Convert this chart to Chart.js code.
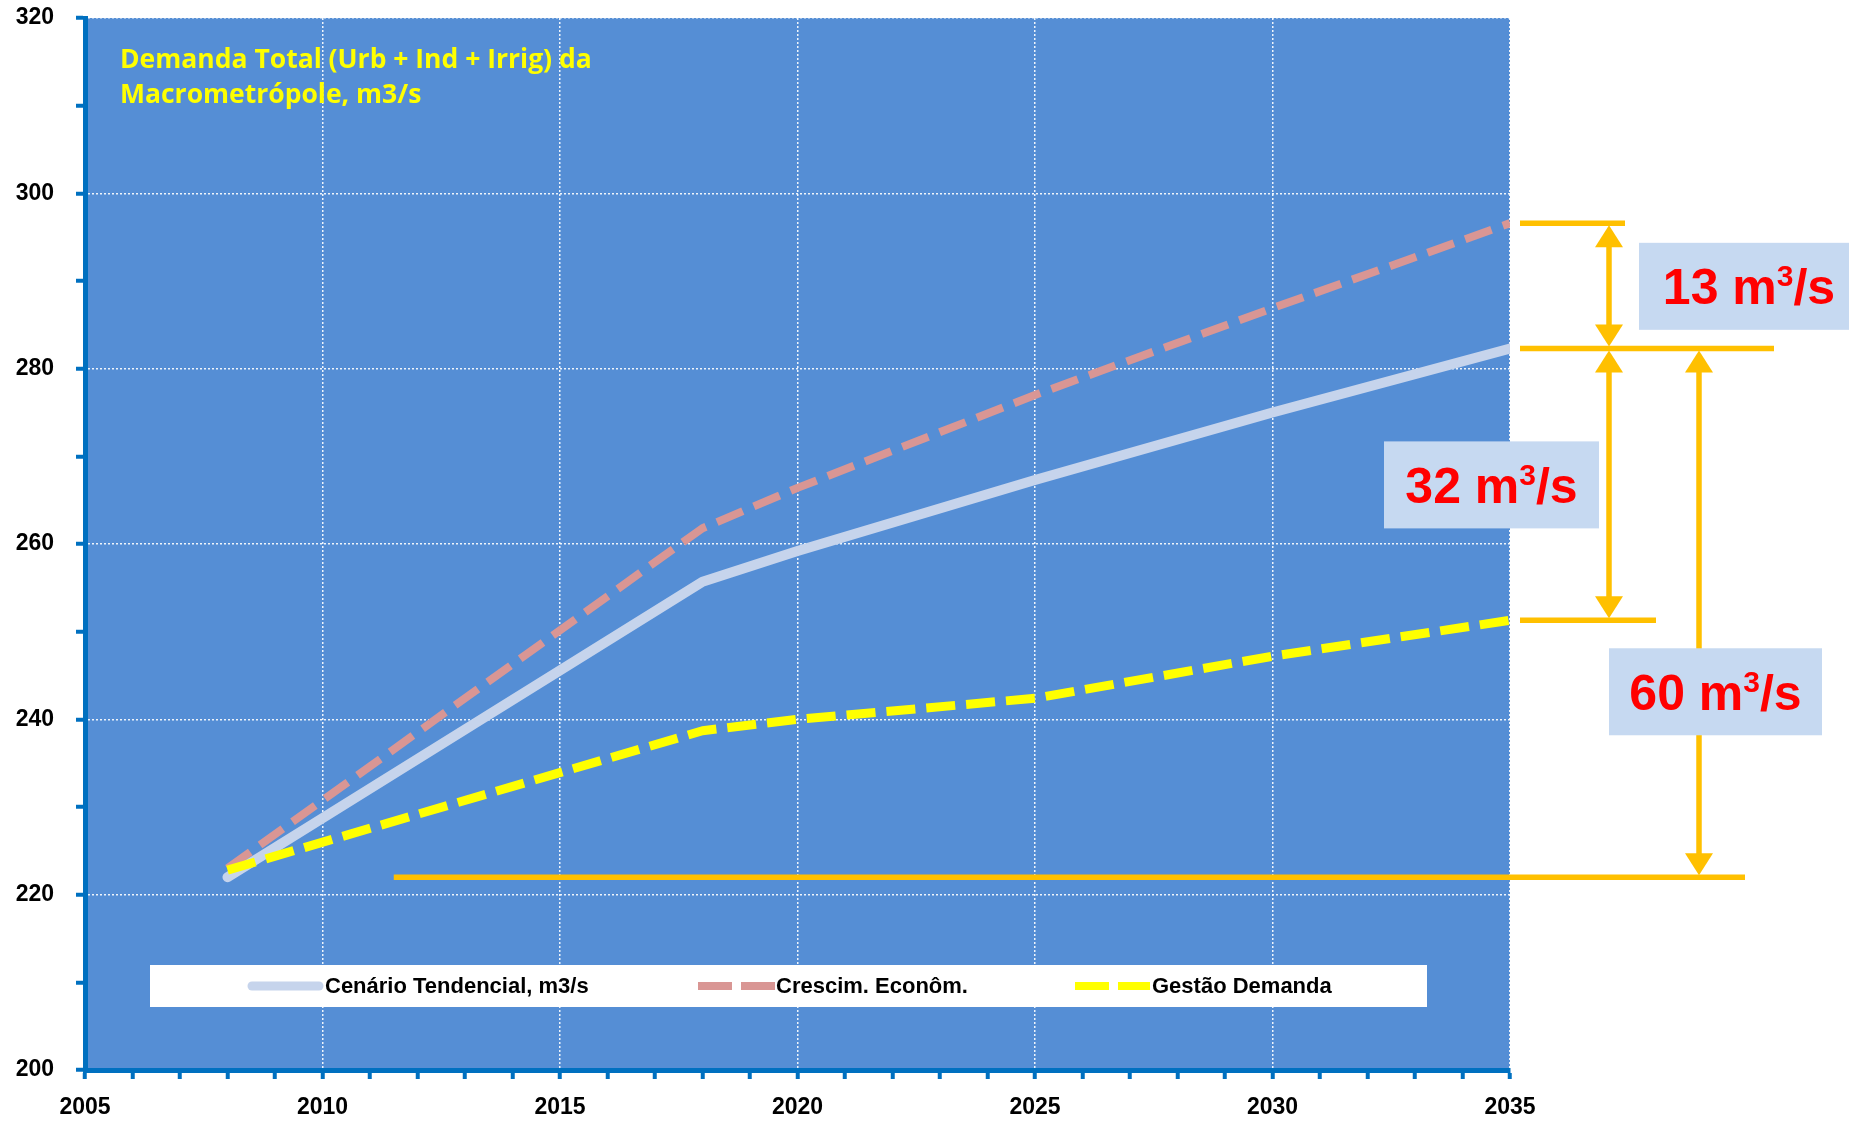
<!DOCTYPE html>
<html>
<head>
<meta charset="utf-8">
<script src="https://cdn.jsdelivr.net/npm/chart.js@4.4.1/dist/chart.umd.min.js"></script>
<style>
  html, body { margin: 0; padding: 0; background: #fff; }
</style>
</head>
<body>
<canvas id="chart" width="1849" height="1121"></canvas>
<script>
// dados
const years       = [2008, 2018, 2020, 2025, 2030, 2035];
const tendencial  = [222.0, 255.7, 259.2, 267.3, 275.0, 282.3];
const crescimento = [223.0, 261.8, 266.4, 277.0, 286.9, 296.6];
const gestao      = [222.8, 238.7, 240.0, 242.4, 247.2, 251.3];

const seriesLabels = ['Cenário Tendencial, m3/s', 'Crescim. Econôm.', 'Gestão Demanda'];
const titleLines   = ['Demanda Total (Urb + Ind + Irrig) da', 'Macrometrópole, m3/s'];
const deltaLabels  = ['13', '32', '60'];

const xRange = [2005, 2035];
const yRange = [200, 320];

const AXIS_BLUE = '#0070C0';
const ORANGE = '#FFC000';
const GRID = 'rgba(255,255,255,0.9)';

const pts = vals => years.map((x, i) => ({ x, y: vals[i] }));

// fundo da área do gráfico
const bgPlugin = {
  id: 'bg',
  beforeDraw(chart){
    const { ctx, chartArea: a } = chart;
    ctx.save();
    ctx.fillStyle = '#fff';
    ctx.fillRect(0, 0, chart.width, chart.height);
    ctx.fillStyle = '#558ED5';
    ctx.fillRect(a.left, a.top, a.right - a.left, a.bottom - a.top);
    ctx.restore();
  }
};

// título amarelo dentro da área
const titlePlugin = {
  id: 'titleIn',
  beforeDatasetsDraw(chart){
    const { ctx, chartArea: a } = chart;
    ctx.save();
    ctx.fillStyle = '#FFFF00';
    ctx.font = 'bold 26.5px "Open Sans", Lato, sans-serif';
    ctx.textAlign = 'left';
    ctx.textBaseline = 'alphabetic';
    ctx.fillText(titleLines[0], a.left + 35, a.top + 50);
    ctx.fillText(titleLines[1], a.left + 35, a.top + 85);
    ctx.restore();
  }
};

// legenda em caixa branca
const legendPlugin = {
  id: 'legendBox',
  afterDatasetsDraw(chart){
    const { ctx, chartArea: a } = chart;
    const top = a.bottom - 105, h = 42;
    ctx.save();
    ctx.fillStyle = '#fff';
    ctx.fillRect(a.left + 65, top, 1277, h);
    const cy = top + h / 2;
    const items = [
      { x0: 248, x1: 323, tx: 325 },
      { x0: 698, x1: 776, tx: 776 },
      { x0: 1075, x1: 1150, tx: 1152 }
    ];
    chart.data.datasets.forEach((ds, i) => {
      const it = items[i];
      ctx.strokeStyle = ds.borderColor;
      ctx.lineWidth = ds.borderDash ? 8 : 9;
      ctx.lineCap = ds.borderDash ? 'butt' : 'round';
      ctx.setLineDash(ds.borderDash ? [34, 9] : []);
      ctx.beginPath();
      ctx.moveTo(it.x0 + (ds.borderDash ? 0 : 4), cy);
      ctx.lineTo(it.x1 - (ds.borderDash ? 0 : 4), cy);
      ctx.stroke();
      ctx.setLineDash([]);
      ctx.fillStyle = '#000';
      ctx.font = 'bold 22px "Liberation Sans", Arial, sans-serif';
      ctx.textBaseline = 'middle';
      ctx.fillText(ds.label, it.tx, cy + 1);
    });
    ctx.restore();
  }
};

function drawArrow(ctx, x, y1, y2){
  // seta dupla vertical entre y1 (cima) e y2 (baixo)
  const hw = 14, hh = 24;
  ctx.beginPath();
  ctx.moveTo(x, y1 + hh - 2);
  ctx.lineTo(x, y2 - hh + 2);
  ctx.stroke();
  ctx.beginPath();
  ctx.moveTo(x, y1 + 2); ctx.lineTo(x - hw, y1 + hh); ctx.lineTo(x + hw, y1 + hh); ctx.closePath();
  ctx.fill();
  ctx.beginPath();
  ctx.moveTo(x, y2 - 2); ctx.lineTo(x - hw, y2 - hh); ctx.lineTo(x + hw, y2 - hh); ctx.closePath();
  ctx.fill();
}

function drawDelta(ctx, num, x, y, w, h){
  ctx.fillStyle = '#C6D9F1';
  ctx.fillRect(x, y, w, h);
  const big = 'bold 50px "Liberation Sans", Arial, sans-serif';
  const small = 'bold 30px "Liberation Sans", Arial, sans-serif';
  ctx.font = big;
  const w1 = ctx.measureText(num + ' m').width;
  const w3 = ctx.measureText('/s').width;
  ctx.font = small;
  const w2 = ctx.measureText('3').width;
  let cx = x + w / 2 - (w1 + w2 + w3) / 2;
  const base = y + h / 2 + 18;
  ctx.fillStyle = '#FF0000';
  ctx.textAlign = 'left';
  ctx.textBaseline = 'alphabetic';
  ctx.font = big;   ctx.fillText(num + ' m', cx, base); cx += w1;
  ctx.font = small; ctx.fillText('3', cx, base - 18);  cx += w2;
  ctx.font = big;   ctx.fillText('/s', cx, base);
}

// cotas laranja à direita
const deltaPlugin = {
  id: 'deltas',
  afterDraw(chart){
    const { ctx, chartArea: a, scales: { x, y } } = chart;
    const yA = y.getPixelForValue(crescimento[crescimento.length - 1]);
    const yB = y.getPixelForValue(tendencial[tendencial.length - 1]);
    const yC = y.getPixelForValue(gestao[gestao.length - 1]);
    const yD = y.getPixelForValue(tendencial[0]);
    const r = a.right;
    ctx.save();
    ctx.strokeStyle = ORANGE;
    ctx.fillStyle = ORANGE;
    ctx.lineWidth = 5.5;
    const hline = (yy, x0, x1) => { ctx.beginPath(); ctx.moveTo(x0, yy); ctx.lineTo(x1, yy); ctx.stroke(); };
    hline(yA, r + 10, r + 115);
    hline(yB, r + 10, r + 264);
    hline(yC, r + 10, r + 146);
    hline(yD, x.getPixelForValue(2011.5), r + 235);
    drawArrow(ctx, r + 99, yA, yB);
    drawArrow(ctx, r + 99, yB, yC);
    drawArrow(ctx, r + 189, yB, yD);
    drawDelta(ctx, deltaLabels[0], r + 129, (yA + yB) / 2 - 43, 220, 87);
    drawDelta(ctx, deltaLabels[1], r - 126, (yB + yC) / 2 - 43, 215, 87);
    drawDelta(ctx, deltaLabels[2], r + 99, yC + 28, 213, 87);
    ctx.restore();
  }
};

const tickFont = { family: '"Liberation Sans", Arial, sans-serif', weight: 'bold', size: 23 };

new Chart(document.getElementById('chart'), {
  type: 'line',
  data: {
    datasets: [
      {
        label: seriesLabels[0],
        data: pts(tendencial),
        borderColor: '#C6D4EC',
        borderWidth: 10,
        borderCapStyle: 'round',
        borderJoinStyle: 'round',
        pointRadius: 0,
        order: 1
      },
      {
        label: seriesLabels[1],
        data: pts(crescimento),
        borderColor: '#D99694',
        borderWidth: 8,
        borderDash: [28, 12],
        borderJoinStyle: 'round',
        pointRadius: 0,
        order: 2
      },
      {
        label: seriesLabels[2],
        data: pts(gestao),
        borderColor: '#FFFF00',
        borderWidth: 9,
        borderDash: [29, 11],
        borderJoinStyle: 'round',
        pointRadius: 0,
        order: 0
      }
    ]
  },
  options: {
    responsive: false,
    animation: false,
    devicePixelRatio: 1,
    layout: { padding: { top: 18, right: 339, left: 0, bottom: 0 } },
    plugins: { legend: { display: false }, tooltip: { enabled: false } },
    elements: { line: { tension: 0 } },
    scales: {
      x: {
        type: 'linear',
        min: xRange[0], max: xRange[1],
        afterFit: s => { s.height = 51; },
        ticks: {
          stepSize: 1, autoSkip: false, maxTicksLimit: 100, maxRotation: 0,
          padding: 15, color: '#000', font: tickFont,
          callback: v => (v % 5 === 0 ? String(v) : '')
        },
        grid: {
          color: c => (c.tick && c.tick.value % 5 === 0 ? GRID : 'rgba(0,0,0,0)'),
          lineWidth: 1.5,
          tickColor: AXIS_BLUE, tickWidth: 4, tickLength: 9
        },
        border: { color: AXIS_BLUE, width: 5, dash: [2, 2] }
      },
      y: {
        min: yRange[0], max: yRange[1],
        afterFit: s => { s.width = 85; s.paddingTop = 0; s.paddingBottom = 0; },
        ticks: {
          stepSize: 10, autoSkip: false, maxTicksLimit: 100,
          padding: 22, color: '#000', font: tickFont,
          callback: v => (v % 20 === 0 ? String(v) : '')
        },
        grid: {
          color: c => (c.tick && c.tick.value % 20 === 0 ? GRID : 'rgba(0,0,0,0)'),
          lineWidth: 1.5,
          tickColor: AXIS_BLUE, tickWidth: 4, tickLength: 9
        },
        border: { color: AXIS_BLUE, width: 5, dash: [2, 2] }
      }
    }
  },
  plugins: [bgPlugin, titlePlugin, legendPlugin, deltaPlugin]
});
</script>
</body>
</html>
